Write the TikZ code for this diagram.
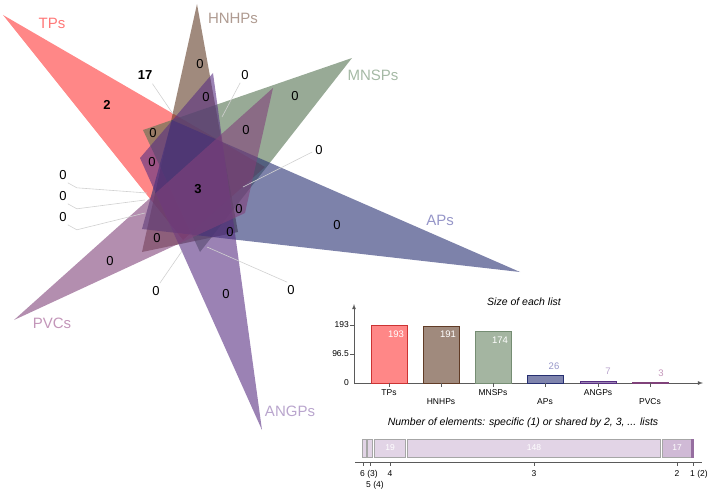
\documentclass[tikz,border=0pt]{standalone}
\usepackage{fontspec}
\setmainfont{Liberation Sans}
\definecolor{cTP}{RGB}{255,55,55}
\definecolor{cHN}{RGB}{97,60,38}
\definecolor{cMN}{RGB}{83,113,80}
\definecolor{cAP}{RGB}{38,47,113}
\definecolor{cAN}{RGB}{88,47,130}
\definecolor{cPV}{RGB}{128,66,122}
\definecolor{lTP}{RGB}{255,120,120}
\definecolor{lHN}{RGB}{175,155,145}
\definecolor{lMN}{RGB}{165,185,165}
\definecolor{lAP}{RGB}{150,150,200}
\definecolor{lAN}{RGB}{185,165,205}
\definecolor{lPV}{RGB}{195,150,185}
\definecolor{bTP}{RGB}{255,135,135}
\definecolor{bHN}{RGB}{160,138,125}
\definecolor{bMN}{RGB}{164,181,161}
\definecolor{bAP}{RGB}{127,132,173}
\definecolor{bAN}{RGB}{155,131,180}
\definecolor{bPV}{RGB}{120,50,100}
\definecolor{segA}{RGB}{226,212,230}
\definecolor{segB}{RGB}{208,186,214}
\definecolor{segC}{RGB}{150,110,160}
\definecolor{axisc}{RGB}{90,90,90}
\begin{document}
\begin{tikzpicture}[x=1pt,y=-1pt,
  tri/.style={fill opacity=0.6},
  num/.style={font=\fontsize{13}{13}\selectfont, inner sep=0pt},
  bnum/.style={font=\fontsize{13}{13}\selectfont\bfseries, inner sep=0pt},
  setlab/.style={font=\fontsize{15}{15}\selectfont, inner sep=0pt},
  leader/.style={draw=black!18, line width=0.6pt},
  small/.style={font=\fontsize{8.5}{8.5}\selectfont, inner sep=0pt},
  barval/.style={font=\fontsize{9.5}{9.5}\selectfont, inner sep=0pt},
  ttl/.style={font=\fontsize{10.5}{10.5}\selectfont\itshape, inner sep=0pt},
  ax/.style={draw=axisc, line width=0.8pt},
  segbox/.style={draw=black!35, line width=0.6pt}
]
\useasboundingbox (0,0) rectangle (714,492);
% ---------- Venn triangles ----------
\fill[tri, cTP] (3,15) -- (265,167) -- (183,240) -- cycle;
\fill[tri, cHN] (197,4) -- (142,252) -- (238,232) -- cycle;
\fill[tri, cMN] (352,58) -- (143,130) -- (200,252) -- cycle;
\fill[tri, cAP] (520,272) -- (172,120) -- (142,229) -- cycle;
\fill[tri, cAN] (262,430) -- (140,158) -- (213,73) -- cycle;
\fill[tri, cPV] (14,320) -- (273,88) -- (245,213) -- cycle;
% ---------- set labels ----------
\node[setlab, text=lTP] (lbTP) at (52,23) {TPs};
\node[setlab, text=lHN] (lbHN) at (233,18) {HNHPs};
\node[setlab, text=lMN] (lbMN) at (373,75) {MNSPs};
\node[setlab, text=lAP] (lbAP) at (440,220) {APs};
\node[setlab, text=lAN] (lbAN) at (290,411) {ANGPs};
\node[setlab, text=lPV] (lbPV) at (52,323) {PVCs};
% ---------- region counts ----------
\node[bnum] (n2) at (107,105) {2};
\node[bnum] (n17) at (145,75) {17};
\node[bnum] (n3) at (198,189) {3};
\node[num] (z1) at (200,64) {0};
\node[num] (z2) at (245,75) {0};
\node[num] (z3) at (295,96) {0};
\node[num] (z4) at (206,97) {0};
\node[num] (z5) at (153,133) {0};
\node[num] (z6) at (246,130) {0};
\node[num] (z7) at (152,162) {0};
\node[num] (z8) at (319,150) {0};
\node[num] (z9) at (63,175) {0};
\node[num] (z10) at (63,196) {0};
\node[num] (z11) at (63,217) {0};
\node[num] (z12) at (239,209) {0};
\node[num] (z13) at (230,232) {0};
\node[num] (z14) at (337,225) {0};
\node[num] (z15) at (157,238) {0};
\node[num] (z16) at (110,261) {0};
\node[num] (z17) at (156,291) {0};
\node[num] (z18) at (226,294) {0};
\node[num] (z19) at (291,290) {0};
% ---------- leader lines ----------
\coordinate (t17) at (173,114);
\coordinate (tz2) at (222,117);
\coordinate (tz8) at (243,187);
\coordinate (tz9) at (147,193);
\coordinate (tz10) at (145,200);
\coordinate (tz11) at (145,213);
\coordinate (tz17) at (182,251);
\coordinate (tz19) at (207,247);
\draw[leader] (n17.south east) ++(0,4) -- (t17);
\draw[leader] (z2.south west) ++(-1,3) -- (tz2);
\draw[leader] (z8.west) ++(-3,2) -- (tz8);
\draw[leader] (z9.south east) ++(1,3) -- ++(9,5) -- (tz9);
\draw[leader] (z10.south east) ++(1,3) -- ++(9,5) -- (tz10);
\draw[leader] (z11.south east) ++(1,3) -- ++(9,5) -- (tz11);
\draw[leader] (z17.north east) ++(0,-3) -- (tz17);
\draw[leader] (z19.north west) ++(0,-3) -- (tz19);
% ---------- bar chart ----------
\node[ttl] (t1) at (524,302) {Size of each list};
\draw[ax, -latex] (354,384) -- (354,304);
\draw[ax, -latex] (354,383) -- (703,383);
\draw[ax] (350,325) -- (354,325);
\draw[ax] (350,354) -- (354,354);
\node[small, anchor=east] (y193) at (349,325) {193};
\node[small, anchor=east] (y96) at (349,354) {96.5};
\node[small, anchor=east] (y0) at (349,383) {0};
\draw[fill=bTP, draw=red!75!black!80] (371,383) rectangle (407,325);
\draw[fill=bHN, draw=cHN] (423,383) rectangle (459,326);
\draw[fill=bMN, draw=cMN!80] (475,383) rectangle (511,331);
\draw[fill=bAP, draw=cAP] (527,383) rectangle (563,375.5);
\draw[fill=bAN, draw=cAN] (580,383) rectangle (616,381);
\draw[fill=bPV, draw=cPV] (632,383) rectangle (668,382);
\node[barval, text=white] (v1) at (396,334) {193};
\node[barval, text=white] (v2) at (448,334) {191};
\node[barval, text=white] (v3) at (500,340) {174};
\node[barval, text=lAP] (v4) at (554,366) {26};
\node[barval, text=lAN] (v5) at (608,371) {7};
\node[barval, text=lPV] (v6) at (661,373) {3};
\foreach \xx in {389,441,493,545,598,650} \draw[ax, line width=0.6pt] (\xx,383) -- (\xx,387);
\node[small] (x1) at (389,393) {TPs};
\node[small] (x2) at (441,402) {HNHPs};
\node[small] (x3) at (493,393) {MNSPs};
\node[small] (x4) at (545,402) {APs};
\node[small] (x5) at (598,393) {ANGPs};
\node[small] (x6) at (650,402) {PVCs};
% ---------- distribution bar ----------
\node[ttl] (t2) at (523,423) {Number of elements: specific (1) or shared by 2, 3, ... lists};
\draw[segbox, fill=segA] (362,439) rectangle (366,457);
\draw[segbox, fill=segA] (367,439) rectangle (372,457);
\draw[segbox, fill=segA] (374,439) rectangle (405,457);
\draw[segbox, fill=segA] (407,439) rectangle (660,457);
\draw[segbox, fill=segB] (662,439) rectangle (691,457);
\draw[segbox, fill=segC, draw=segC] (691.5,439) rectangle (693,457);
\node[small, text=white] (s19) at (390,448) {19};
\node[small, text=white] (s148) at (534,448) {148};
\node[small, text=white] (s17) at (677,448) {17};
\draw[ax, line width=0.6pt] (355,462) -- (702,462);
\foreach \xx in {363,370,390,534,677,693} \draw[ax, line width=0.6pt] (\xx,462) -- (\xx,466);
\node[small, anchor=west] (k6) at (360,474) {6 (3)};
\node[small, anchor=west] (k5) at (366,485) {5 (4)};
\node[small] (k4) at (390,474) {4};
\node[small] (k3) at (534,474) {3};
\node[small] (k2) at (677,474) {2};
\node[small, anchor=west] (k1) at (690,474) {1 (2)};
\end{tikzpicture}
\end{document}
